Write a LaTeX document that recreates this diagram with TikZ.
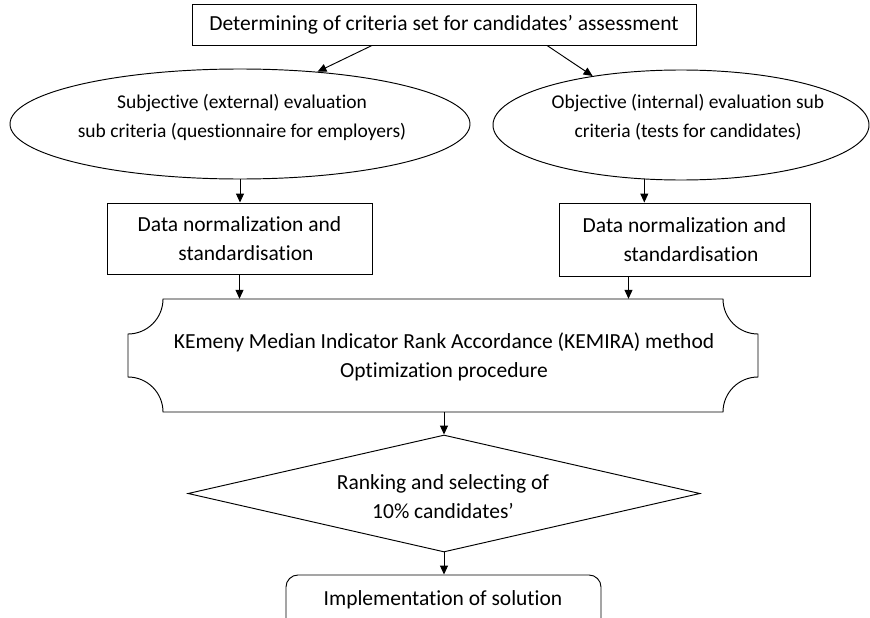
\documentclass[tikz,border=0pt]{standalone}
\usepackage{fontspec}
\setmainfont{Carlito}[Ligatures=NoCommon]
\usetikzlibrary{arrows.meta,shapes.geometric,calc}
\begin{document}
\begin{tikzpicture}[x=1pt,y=-1pt,
  every node/.style={font=\fontsize{21.5}{29}\selectfont},
  shp/.style={draw, line width=0.95pt},
  txt/.style={align=center, inner sep=0pt},
  etxt/.style={txt, font=\fontsize{19.5}{29}\selectfont},
  arr/.style={-{Triangle[length=9pt,width=8pt]}, line width=0.95pt}]
\useasboundingbox (0,0) rectangle (870,618);

% top box
\node[shp, rectangle, minimum width=504pt, minimum height=41pt, inner sep=0pt] (top) at (444,24.5) {Determining of criteria set for candidates’ assessment};

% ellipses
\node[shp, ellipse, minimum width=460pt, minimum height=110pt, inner sep=0pt] (lell) at (240,124) {};
\node[etxt] (ltxt) at (242,117) {Subjective (external) evaluation\\sub criteria (questionnaire for employers)};
\node[shp, ellipse, minimum width=376pt, minimum height=110pt, inner sep=0pt] (rell) at (681,125) {};
\node[etxt] (rtxt) at (688,117) {Objective (internal) evaluation sub\\criteria (tests for candidates)};

% boxes
\node[shp, rectangle, minimum width=265pt, minimum height=71pt, inner sep=0pt, align=center] (lbox) at (239.5,238.5) {Data normalization and\\\hspace*{13pt}standardisation};
\node[shp, rectangle, minimum width=251pt, minimum height=73pt, inner sep=0pt, align=center] (rbox) at (684.5,239.5) {Data normalization and\\\hspace*{13pt}standardisation};

% KEMIRA plaque
\node[minimum width=630pt, minimum height=113pt, inner sep=0pt] (kem) at (443,355.5) {};
\draw[shp] (163,299) -- (723,299) .. controls (723,318.3) and (738.7,334) .. (758,334)
  -- (758,377) .. controls (738.7,377) and (723,392.7) .. (723,412)
  -- (163,412) .. controls (163,392.7) and (147.3,377) .. (128,377)
  -- (128,334) .. controls (147.3,334) and (163,318.3) .. (163,299) -- cycle;
\node[txt] (ktxt) at (444,357) {KEmeny Median Indicator Rank Accordance (KEMIRA) method\\Optimization procedure};

% diamond
\node[shp, diamond, minimum width=512pt, minimum height=117pt, inner sep=0pt] (dia) at (444,493.5) {};
\node[txt] (dtxt) at (443,497) {Ranking and selecting of\\10\% candidates’};

% bottom rounded box
\node[shp, rectangle, rounded corners=12pt, minimum width=315pt, minimum height=65pt, inner sep=0pt] (bot) at (443.5,607.5) {};
\node[txt] (btxt) at (443,599.5) {Implementation of solution};

% connectors
\coordinate (tl) at ($(top.south)+(-72,0)$);
\coordinate (tr) at ($(top.south)+(103,0)$);
\coordinate (ra) at ($(rbox.south)+(-56,0)$);
\draw[arr] (tl) -- (lell.34);
\draw[arr] (tr) -- (rell.151);
\draw[arr] (lell.south) -- (lell.south |- lbox.north);
\draw[arr] (rell.236) -- (rell.236 |- rbox.north);
\draw[arr] (lbox.south) -- (lbox.south |- kem.north);
\draw[arr] (ra) -- (ra |- kem.north);
\draw[arr] (kem.south -| dia.north) -- (dia.north);
\draw[arr] (dia.south) -- (dia.south |- bot.north);
\end{tikzpicture}
\end{document}
